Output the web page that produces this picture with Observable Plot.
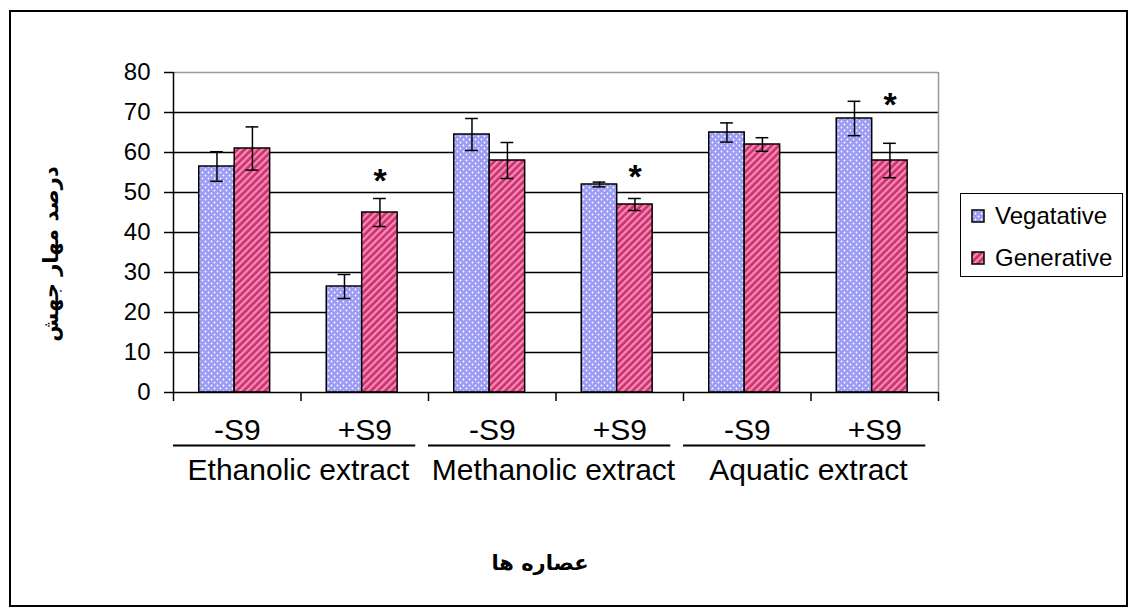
<!DOCTYPE html>
<html>
<head>
<meta charset="utf-8">
<script src="https://cdn.jsdelivr.net/npm/d3@7"></script>
<script src="https://cdn.jsdelivr.net/npm/@observablehq/plot@0.6"></script>
<style>
  html, body { margin: 0; padding: 0; background: #fff; }
  #wrap { position: relative; width: 1131px; height: 610px; overflow: hidden; font-family: "Liberation Sans", Arial, sans-serif; }
  #frame { position: absolute; left: 9px; top: 10px; width: 1119px; height: 597px; border: 2px solid #000; box-sizing: border-box; }
  #chart { position: absolute; left: 0; top: 0; }
  #legend { position: absolute; left: 960px; top: 193px; width: 163px; height: 84px; border: 1.5px solid #000; box-sizing: border-box; background: #fff; }
  .item { position: absolute; left: 10px; display: flex; align-items: center; font-size: 24px; color: #000; }
  .item svg { margin-right: 10px; }
  .ylab { position: absolute; left: 51px; top: 254px; transform: translate(-50%, -50%) rotate(-90deg); font-family: "DejaVu Sans", sans-serif; font-weight: bold; font-size: 21px; direction: rtl; white-space: nowrap; }
  .xlab { position: absolute; left: 540px; top: 563px; transform: translate(-50%, -50%); font-family: "DejaVu Sans", sans-serif; font-weight: bold; font-size: 21px; direction: rtl; white-space: nowrap; }
</style>
</head>
<body>
<svg width="0" height="0" style="position:absolute">
  <defs>
    <pattern id="dots" patternUnits="userSpaceOnUse" width="6" height="6">
      <rect width="6" height="6" fill="#9c9cf5"></rect>
      <circle cx="1.5" cy="1.5" r="0.9" fill="#ffffff"></circle>
      <circle cx="4.5" cy="4.5" r="0.9" fill="#ffffff"></circle>
    </pattern>
    <pattern id="stripes" patternUnits="userSpaceOnUse" width="5" height="5" patternTransform="rotate(45)">
      <rect width="5" height="5" fill="#c8336c"></rect>
      <rect width="2.3" height="5" fill="#f98ab8"></rect>
    </pattern>
  </defs>
</svg>
<div id="wrap">
  <div id="frame"></div>
  <div id="chart"></div>
  <div id="legend"></div>
  <div class="ylab">درصد مهار جهش</div>
  <div class="xlab">عصاره ها</div>
</div>
<script>
// ---- data ----
const extracts = ["Ethanolic extract", "Methanolic extract", "Aquatic extract"];
const conditions = ["-S9", "+S9"];
const series = ["Vegatative", "Generative"];
const vegValues = [56.5, 26.5, 64.5, 52, 65, 68.5];
const vegErrors = [3.7, 3, 4, 0.6, 2.4, 4.3];
const genValues = [61, 45, 58, 47, 62, 58];
const genErrors = [5.4, 3.5, 4.5, 1.5, 1.7, 4.3];
const starValues = [null, 55, null, 56, null, 74];
const yTicks = [0, 10, 20, 30, 40, 50, 60, 70, 80];

// ---- layout helpers (category i spans [i, i+1] on x) ----
const bw = 0.278, mid = 0.48;
const rows = extracts.flatMap((e, k) => conditions.map((c, j) => {
  const i = k * 2 + j;
  return { i, extract: e, condition: c, veg: vegValues[i], vegErr: vegErrors[i], gen: genValues[i], genErr: genErrors[i], star: starValues[i] };
}));
const groups = extracts.map((e, k) => ({ k, extract: e }));
const fills = { Vegatative: "url(#dots)", Generative: "url(#stripes)" };

const capHalf = 0.05;
const plot = Plot.plot({
  width: 1131, height: 610,
  marginLeft: 173, marginRight: 193, marginTop: 72, marginBottom: 218,
  x: { domain: [0, rows.length], axis: null },
  y: { domain: [0, 80], axis: null },
  style: { fontFamily: "'Liberation Sans', Arial, sans-serif", fontSize: "24px", background: "transparent", overflow: "visible", color: "#000" },
  marks: [
    Plot.ruleY(yTicks.slice(1, -1), { stroke: "#000", strokeWidth: 1.5 }),
    Plot.ruleY([yTicks[yTicks.length - 1]], { stroke: "#999", strokeWidth: 1.5 }),
    Plot.ruleX([rows.length], { stroke: "#999", strokeWidth: 1.5 }),
    Plot.rectY(rows, { x1: d => d.i + mid - bw, x2: d => d.i + mid, y1: 0, y2: "veg", fill: fills.Vegatative, stroke: "#000", strokeWidth: 1.5 }),
    Plot.rectY(rows, { x1: d => d.i + mid, x2: d => d.i + mid + bw, y1: 0, y2: "gen", fill: fills.Generative, stroke: "#000", strokeWidth: 1.5 }),
    // error bars
    Plot.ruleX(rows, { x: d => d.i + mid - bw / 2, y1: d => d.veg - d.vegErr, y2: d => d.veg + d.vegErr, stroke: "#000", strokeWidth: 1.5 }),
    Plot.ruleY(rows, { y: d => d.veg - d.vegErr, x1: d => d.i + mid - bw / 2 - capHalf, x2: d => d.i + mid - bw / 2 + capHalf, stroke: "#000", strokeWidth: 1.5 }),
    Plot.ruleY(rows, { y: d => d.veg + d.vegErr, x1: d => d.i + mid - bw / 2 - capHalf, x2: d => d.i + mid - bw / 2 + capHalf, stroke: "#000", strokeWidth: 1.5 }),
    Plot.ruleX(rows, { x: d => d.i + mid + bw / 2, y1: d => d.gen - d.genErr, y2: d => d.gen + d.genErr, stroke: "#000", strokeWidth: 1.5 }),
    Plot.ruleY(rows, { y: d => d.gen - d.genErr, x1: d => d.i + mid + bw / 2 - capHalf, x2: d => d.i + mid + bw / 2 + capHalf, stroke: "#000", strokeWidth: 1.5 }),
    Plot.ruleY(rows, { y: d => d.gen + d.genErr, x1: d => d.i + mid + bw / 2 - capHalf, x2: d => d.i + mid + bw / 2 + capHalf, stroke: "#000", strokeWidth: 1.5 }),
    // significance stars
    Plot.text(rows.filter(d => d.star != null), { x: d => d.i + 0.62, y: "star", text: () => "*", fontSize: 34, fontWeight: "bold", fill: "#000", dy: 9 }),
    // axes
    Plot.axisY({ ticks: yTicks, tickSize: 9, tickPadding: 14, fontSize: 24, label: null, strokeWidth: 1.5 }),
    Plot.ruleX([0], { stroke: "#000", strokeWidth: 1.5 }),
    Plot.ruleY([0], { stroke: "#000", strokeWidth: 1.5 }),
    Plot.axisX({ ticks: d3.range(rows.length + 1), tickSize: 9, tickFormat: () => "", label: null, strokeWidth: 1.5 }),
    // category labels
    Plot.text(rows, { x: d => d.i + 0.5, y: 0, text: "condition", dy: 38, fontSize: 30, fill: "#000" }),
    Plot.ruleY(groups, { y: 0, x1: d => d.k * 2 + 0.0, x2: d => d.k * 2 + 1.9, dy: 53, stroke: "#000", strokeWidth: 2 }),
    Plot.text(groups, { x: d => d.k * 2 + 0.98, y: 0, text: "extract", dy: 78, fontSize: 30, fill: "#000" })
  ]
});
document.getElementById("chart").appendChild(plot);

// legend
const legend = document.getElementById("legend");
series.forEach((s, idx) => {
  const item = document.createElement("div");
  item.className = "item";
  item.style.top = (idx === 0 ? 8 : 50) + "px";
  item.innerHTML = `<svg width="14" height="14"><rect x="1" y="1" width="12" height="12" fill="${fills[s]}" stroke="#000" stroke-width="1.5"></rect></svg><span>${s}</span>`;
  legend.appendChild(item);
});
</script>
</body>
</html>
